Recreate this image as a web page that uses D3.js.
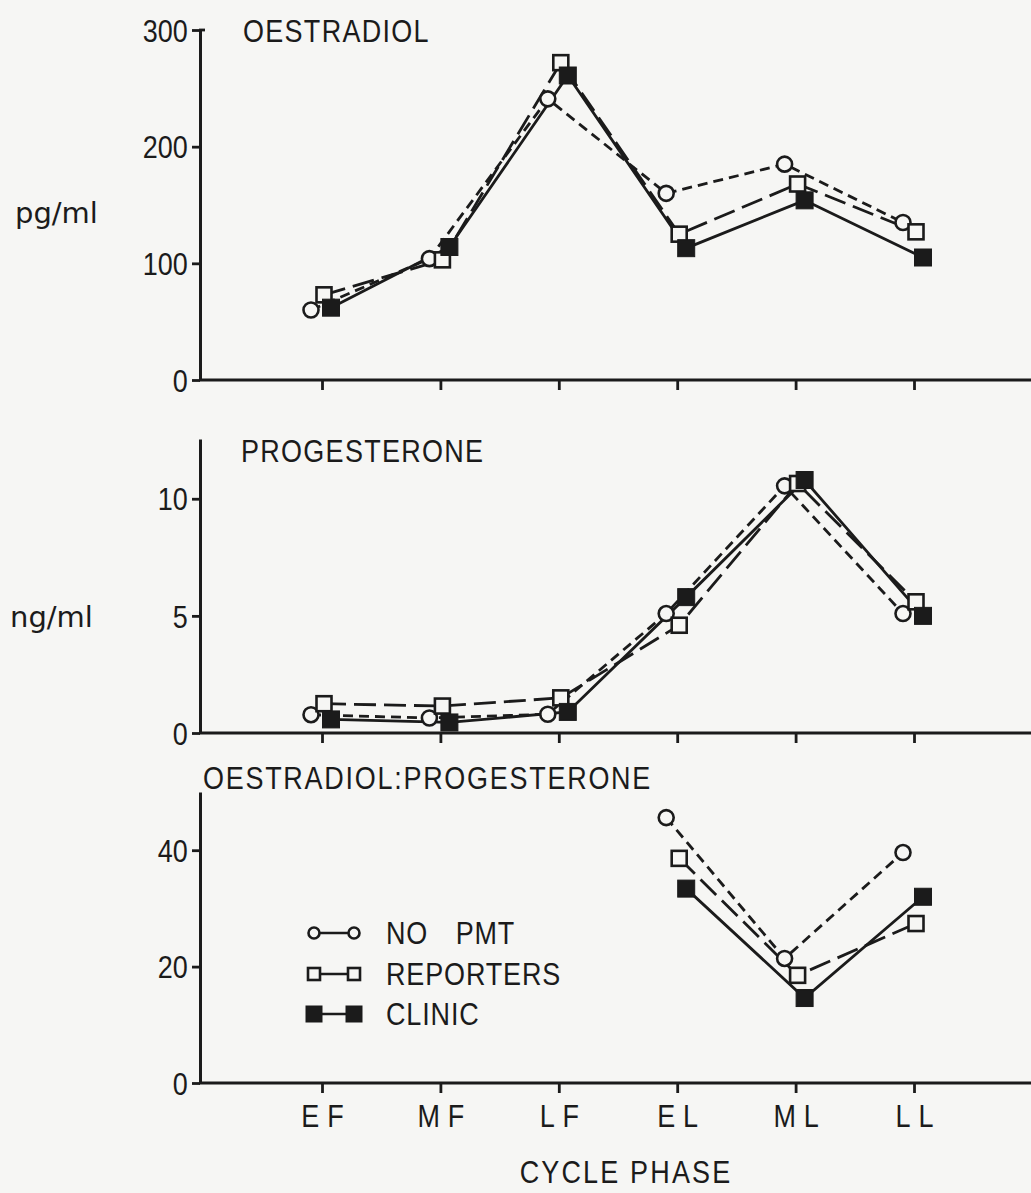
<!DOCTYPE html>
<html>
<head>
<meta charset="utf-8">
<script src="https://cdn.jsdelivr.net/npm/d3@7"></script>
<style>
  html, body { margin: 0; padding: 0; background: #f6f6f4; }
  svg { display: block; }
  text { font-family: "Liberation Sans", Arial, sans-serif; fill: #1b1b1b; }
</style>
</head>
<body>
<svg id="chart" width="1031" height="1193"></svg>
<script>
// ---------- data ----------
const phases = ["EF", "MF", "LF", "EL", "ML", "LL"];
const seriesNames = ["NO PMT", "REPORTERS", "CLINIC"];

const oestradiolNoPMT     = [60, 104, 241, 160, 185, 135];
const oestradiolReporters = [73, 103, 272, 125, 168, 127];
const oestradiolClinic    = [62, 114, 261, 113, 154, 105];

const progesteroneNoPMT     = [0.78, 0.64, 0.8, 5.1, 10.55, 5.1];
const progesteroneReporters = [1.25, 1.15, 1.5, 4.6, 10.65, 5.6];
const progesteroneClinic    = [0.58, 0.45, 0.9, 5.8, 10.8, 5.0];

const ratioNoPMT     = [null, null, null, 45.6, 21.4, 39.6];
const ratioReporters = [null, null, null, 38.6, 18.5, 27.4];
const ratioClinic    = [null, null, null, 33.4, 14.6, 32.0];

const oestradiolTicks = [0, 100, 200, 300];
const progesteroneTicks = [0, 5, 10];
const ratioTicks = [0, 20, 40];

// ---------- layout / style ----------
const svg = d3.select("#chart");
const ink = "#1b1b1b";
const paper = "#f6f6f4";
const axisX = 200, rightEdge = 1031;
const SX = 0.87;          // horizontal condensation of the lettering
const FS = 31;            // main font size

const x = d3.scalePoint().domain(phases).range([322, 914]);

const styles = [
  { shape: "circle", dash: "10,6", dx: -11 },
  { shape: "open",   dash: "22,8", dx: 2 },
  { shape: "filled", dash: null,   dx: 9 }
];

const panels = [
  { title: "OESTRADIOL", titleX: 243, titleY: 42, titleLS: 1.5, unit: "pg/ml", unitX: 15, unitY: 223,
    domain: [0, 300], range: [380, 30], ticks: oestradiolTicks,
    series: [oestradiolNoPMT, oestradiolReporters, oestradiolClinic], labels: false, hook: true },
  { title: "PROGESTERONE", titleX: 241, titleY: 462, titleLS: 1.5, unit: "ng/ml", unitX: 10, unitY: 627,
    domain: [0, 12.55], range: [733, 439], ticks: progesteroneTicks,
    series: [progesteroneNoPMT, progesteroneReporters, progesteroneClinic], labels: false },
  { title: "OESTRADIOL:PROGESTERONE", titleX: 203, titleY: 789, titleLS: 2, unit: null,
    domain: [0, 50], range: [1083, 792], ticks: ratioTicks,
    series: [ratioNoPMT, ratioReporters, ratioClinic], labels: true }
];

function label(g, tx, ty, str, opts = {}) {
  return g.append("text")
    .attr("transform", `translate(${tx},${ty}) scale(${SX},1)`)
    .attr("font-size", opts.size || FS)
    .attr("letter-spacing", (opts.ls || 0) + "px")
    .attr("word-spacing", (opts.ws || 0) + "px")
    .attr("text-anchor", opts.anchor || "start")
    .text(str);
}

function drawMarker(g, shape, cx, cy, size) {
  if (shape === "circle") {
    g.append("circle").attr("cx", cx).attr("cy", cy).attr("r", size / 2)
      .attr("fill", paper).attr("stroke", ink).attr("stroke-width", 2.6);
  } else if (shape === "open") {
    g.append("rect").attr("x", cx - size / 2).attr("y", cy - size / 2)
      .attr("width", size).attr("height", size)
      .attr("fill", paper).attr("stroke", ink).attr("stroke-width", 2.6);
  } else {
    g.append("rect").attr("x", cx - size / 2 - 1).attr("y", cy - size / 2 - 1)
      .attr("width", size + 2).attr("height", size + 2)
      .attr("fill", ink).attr("stroke", ink).attr("stroke-width", 1);
  }
}

panels.forEach(p => {
  const y = d3.scaleLinear().domain(p.domain).range(p.range);
  const g = svg.append("g");

  // y axis
  const ya = g.append("g").attr("transform", `translate(${axisX},0)`)
    .call(d3.axisLeft(y).tickValues(p.ticks).tickSize(8).tickSizeOuter(0).tickPadding(6)
      .tickFormat(d3.format("d")));
  ya.select(".domain").attr("stroke", ink).attr("stroke-width", 3);
  ya.selectAll(".tick line").attr("stroke", ink).attr("stroke-width", 2.8);
  ya.selectAll(".tick text").attr("font-size", FS).attr("fill", ink)
    .attr("transform", `scale(${SX},1)`).attr("dy", "0.36em")
    .style("font-family", "'Liberation Sans', Arial, sans-serif");
  if (p.hook) {
    g.append("line").attr("x1", axisX - 1).attr("x2", axisX + 5)
      .attr("y1", y(p.domain[1])).attr("y2", y(p.domain[1]))
      .attr("stroke", ink).attr("stroke-width", 2.8);
  }

  // x axis
  const xa = g.append("g").attr("transform", `translate(0,${y(0)})`)
    .call(d3.axisBottom(x).tickSize(10).tickSizeOuter(0).tickPadding(12)
      .tickFormat(p.labels ? (d => d) : () => ""));
  xa.select(".domain").remove();
  xa.selectAll(".tick line").attr("stroke", ink).attr("stroke-width", 2.8);
  xa.selectAll(".tick text").attr("font-size", FS).attr("fill", ink)
    .attr("letter-spacing", "9px").attr("dx", "4.5px").attr("dy", "0.72em")
    .attr("transform", `scale(${SX},1)`)
    .style("font-family", "'Liberation Sans', Arial, sans-serif");
  g.append("line").attr("x1", axisX - 1).attr("x2", rightEdge)
    .attr("y1", y(0)).attr("y2", y(0)).attr("stroke", ink).attr("stroke-width", 3);

  // title and unit
  label(g, p.titleX, p.titleY, p.title, { ls: p.titleLS });
  if (p.unit) {
    g.append("text").attr("x", p.unitX).attr("y", p.unitY)
      .attr("font-size", 29).style("font-family", "'DejaVu Sans', sans-serif").text(p.unit);
  }

  // series lines
  p.series.forEach((vals, si) => {
    const st = styles[si];
    const pts = phases.map((ph, i) => ({ ph, v: vals[i] })).filter(d => d.v !== null);
    const line = d3.line().x(d => x(d.ph) + st.dx).y(d => y(d.v));
    g.append("path").datum(pts).attr("d", line).attr("fill", "none")
      .attr("stroke", ink).attr("stroke-width", 2.8)
      .attr("stroke-dasharray", st.dash);
  });
  // markers
  p.series.forEach((vals, si) => {
    const st = styles[si];
    const mg = g.append("g");
    phases.forEach((ph, i) => {
      if (vals[i] === null) return;
      drawMarker(mg, st.shape, x(ph) + st.dx, y(vals[i]), 15);
    });
  });
});

// x axis title
label(svg, 626, 1183, "CYCLE PHASE", { ls: 2.5, anchor: "middle" });

// legend
const legend = svg.append("g");
const legendRows = [933, 974, 1014];
seriesNames.forEach((name, i) => {
  const ly = legendRows[i];
  const st = styles[i];
  legend.append("line").attr("x1", 314).attr("x2", 354).attr("y1", ly).attr("y2", ly)
    .attr("stroke", ink).attr("stroke-width", 2.6);
  const sz = st.shape === "circle" ? 11 : (st.shape === "open" ? 12 : 14);
  drawMarker(legend, st.shape, 314, ly, sz);
  drawMarker(legend, st.shape, 354, ly, sz);
  label(legend, 386, ly + 11, name, { ls: 1, ws: 22 });
});
</script>
</body>
</html>
